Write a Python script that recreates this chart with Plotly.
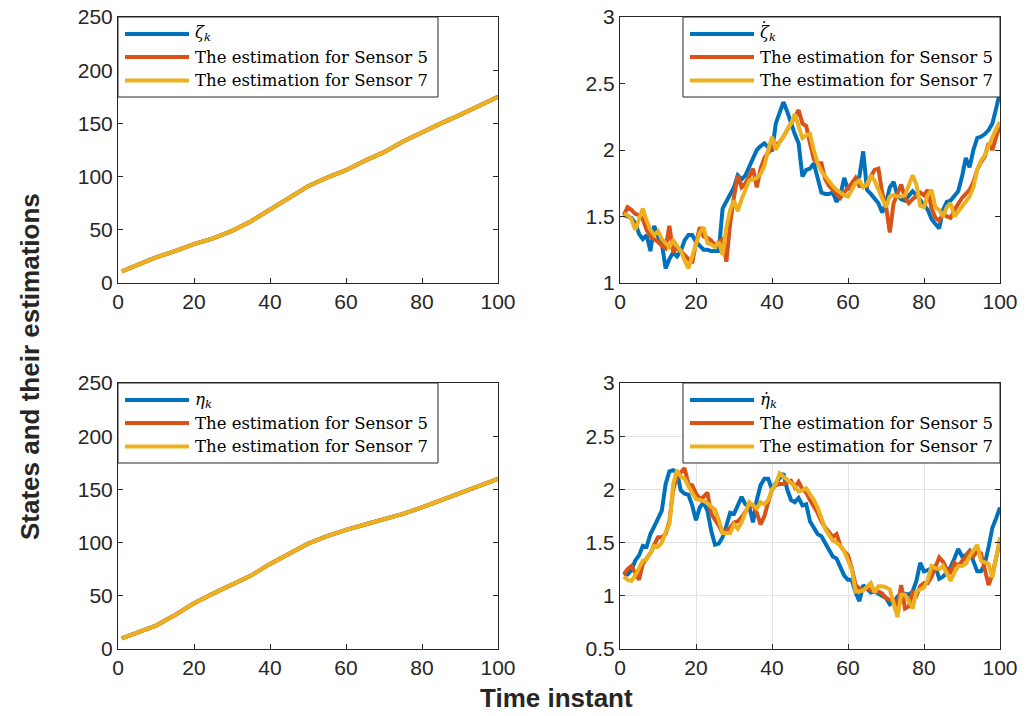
import plotly.graph_objects as go

# ---------------- data ----------------
t_coarse = [1, 5, 10, 15, 20, 25, 30, 35, 40, 45, 50, 55, 60, 65, 70, 75, 80, 85, 90, 95, 100]
zeta = [11, 17, 24, 30, 36.5, 42, 49, 58, 69, 80, 91, 99, 106, 115, 123, 133, 142, 150, 158, 167, 175]
zeta_s5 = [11, 17, 24, 30, 36.5, 42, 49, 58, 69, 80, 91, 99, 106, 115, 123, 133, 142, 150, 158, 167, 175]
zeta_s7 = [11, 17, 24, 30, 36.5, 42, 49, 58, 69, 80, 91, 99, 106, 115, 123, 133, 142, 150, 158, 167, 175]
eta = [10, 15, 22, 32, 43, 52, 60, 69, 80, 90, 99, 106, 112, 117, 122, 127, 133, 140, 147, 154, 160]
eta_s5 = [10, 15, 22, 32, 43, 52, 60, 69, 80, 90, 99, 106, 112, 117, 122, 127, 133, 140, 147, 154, 160]
eta_s7 = [10, 15, 22, 32, 43, 52, 60, 69, 80, 90, 99, 106, 112, 117, 122, 127, 133, 140, 147, 154, 160]

t = list(range(1, 101))
zeta_dot = [1.51, 1.50, 1.49, 1.45, 1.37, 1.33, 1.36, 1.24, 1.43, 1.35,
            1.30, 1.11, 1.18, 1.23, 1.20, 1.24, 1.32, 1.36, 1.36, 1.31,
            1.28, 1.25, 1.25, 1.24, 1.24, 1.24, 1.56, 1.61, 1.66, 1.72,
            1.81, 1.78, 1.81, 1.87, 1.93, 2.00, 2.03, 2.05, 2.02, 1.99,
            2.20, 2.28, 2.36, 2.29, 2.20, 2.12, 2.05, 1.80, 1.85, 1.86,
            1.90, 1.78, 1.68, 1.67, 1.67, 1.68, 1.61, 1.66, 1.79, 1.70,
            1.74, 1.76, 1.80, 1.99, 1.70, 1.67, 1.64, 1.60, 1.53, 1.60,
            1.72, 1.76, 1.66, 1.63, 1.62, 1.66, 1.69, 1.66, 1.62, 1.59,
            1.55, 1.48, 1.45, 1.41, 1.55, 1.61, 1.62, 1.65, 1.69, 1.80,
            1.94, 1.87, 2.00, 2.09, 2.10, 2.12, 2.15, 2.20, 2.32, 2.43]
zeta_dot_s5 = [1.51, 1.57, 1.55, 1.52, 1.51, 1.48, 1.40, 1.35, 1.33, 1.31,
               1.28, 1.26, 1.43, 1.23, 1.27, 1.24, 1.20, 1.18, 1.15, 1.30,
               1.42, 1.35, 1.34, 1.32, 1.28, 1.31, 1.33, 1.16, 1.45, 1.65,
               1.81, 1.72, 1.75, 1.80, 1.86, 1.72, 1.86, 1.94, 1.98, 2.02,
               2.04, 2.06, 2.10, 2.15, 2.20, 2.26, 2.30, 2.20, 2.18, 2.05,
               1.93, 1.90, 1.90, 1.78, 1.73, 1.70, 1.67, 1.64, 1.68, 1.71,
               1.75, 1.79, 1.73, 1.73, 1.73, 1.80, 1.85, 1.86, 1.68, 1.58,
               1.38, 1.60, 1.68, 1.74, 1.64, 1.60, 1.63, 1.66, 1.68, 1.66,
               1.70, 1.56, 1.49, 1.47, 1.52, 1.50, 1.49, 1.55, 1.60, 1.64,
               1.67, 1.70, 1.76, 1.85, 1.91, 1.95, 2.05, 2.00, 2.10, 2.18]
zeta_dot_s7 = [1.52, 1.51, 1.48, 1.40, 1.48, 1.56, 1.47, 1.40, 1.36, 1.39,
               1.33, 1.30, 1.27, 1.32, 1.28, 1.24, 1.17, 1.11, 1.20, 1.30,
               1.38, 1.42, 1.30, 1.29, 1.27, 1.31, 1.21, 1.42, 1.55, 1.62,
               1.54, 1.63, 1.70, 1.77, 1.78, 1.79, 1.82, 1.88, 2.00, 2.10,
               2.00, 2.06, 2.10, 2.15, 2.20, 2.27, 2.18, 2.09, 2.11, 2.12,
               2.00, 1.90, 1.84, 1.80, 1.76, 1.73, 1.70, 1.68, 1.66, 1.65,
               1.70, 1.75, 1.77, 1.72, 1.74, 1.81, 1.77, 1.70, 1.63, 1.57,
               1.65, 1.66, 1.65, 1.65, 1.66, 1.73, 1.81, 1.74, 1.58, 1.57,
               1.66, 1.70, 1.57, 1.55, 1.50, 1.57, 1.60, 1.50, 1.54, 1.58,
               1.62, 1.65, 1.72, 1.85, 1.92, 1.96, 2.03, 2.10, 2.16, 2.21]

eta_dot = [1.20, 1.20, 1.24, 1.33, 1.38, 1.47, 1.46, 1.58, 1.65, 1.72,
           1.80, 2.05, 2.17, 2.18, 2.16, 1.99, 1.96, 1.95, 1.85, 1.71,
           1.83, 1.88, 1.80, 1.61, 1.48, 1.49, 1.55, 1.66, 1.78, 1.77,
           1.85, 1.93, 1.86, 1.84, 1.69, 1.90, 2.04, 2.10, 2.10, 2.00,
           2.06, 2.11, 2.15, 2.00, 1.90, 1.88, 1.92, 1.85, 1.86, 1.70,
           1.63, 1.58, 1.56, 1.50, 1.44, 1.37, 1.35, 1.28, 1.19, 1.15,
           1.15, 1.03, 0.95, 1.10, 1.06, 1.03, 1.04, 1.02, 1.00, 0.98,
           0.92, 0.94, 0.99, 1.02, 1.02, 1.01, 1.04, 1.14, 1.31, 1.23,
           1.24, 1.26, 1.28, 1.16, 1.18, 1.22, 1.27, 1.35, 1.44, 1.37,
           1.38, 1.42, 1.32, 1.23, 1.23, 1.30, 1.46, 1.64, 1.73, 1.83]
eta_dot_s5 = [1.20, 1.25, 1.28, 1.22, 1.15, 1.30, 1.35, 1.40, 1.48, 1.55,
              1.55, 1.58, 1.70, 2.00, 2.12, 2.16, 2.20, 2.05, 2.04, 1.96,
              1.91, 1.93, 1.97, 1.77, 1.72, 1.66, 1.59, 1.61, 1.64, 1.69,
              1.70, 1.74, 1.79, 1.84, 1.85, 1.78, 1.67, 1.75, 1.88, 2.00,
              2.04, 2.05, 2.05, 2.07, 2.08, 2.02, 2.07, 2.00, 1.97, 1.90,
              1.84, 1.78, 1.70, 1.64, 1.60, 1.55, 1.58, 1.47, 1.42, 1.38,
              1.26, 1.10, 1.07, 1.06, 1.07, 1.05, 1.04, 1.04, 1.02, 0.98,
              0.96, 0.96, 0.90, 1.10, 0.88, 0.90, 1.03, 1.00, 1.09, 1.12,
              1.12, 1.18, 1.28, 1.36, 1.32, 1.25, 1.22, 1.31, 1.28, 1.32,
              1.37, 1.42, 1.37, 1.42, 1.40, 1.25, 1.10, 1.20, 1.36, 1.52]
eta_dot_s7 = [1.18, 1.15, 1.14, 1.19, 1.26, 1.33, 1.34, 1.41, 1.47, 1.46,
              1.50, 1.60, 1.67, 2.05, 2.18, 2.12, 2.10, 2.03, 1.97, 1.91,
              1.90, 1.89, 1.87, 1.84, 1.81, 1.71, 1.59, 1.59, 1.59, 1.67,
              1.63, 1.69, 1.80, 1.88, 1.85, 1.82, 1.88, 1.86, 1.90, 2.00,
              2.05, 2.15, 2.12, 2.09, 2.07, 2.03, 1.98, 1.99, 2.01, 1.96,
              1.90, 1.83, 1.73, 1.63, 1.57, 1.52, 1.50, 1.47, 1.42, 1.33,
              1.25, 1.04, 1.04, 1.05, 1.08, 1.12, 1.03, 1.09, 1.09, 1.08,
              1.06, 0.92, 0.80, 1.01, 1.01, 0.95, 0.88, 1.04, 1.06, 1.08,
              1.15, 1.28, 1.26, 1.25, 1.28, 1.20, 1.14, 1.22, 1.28, 1.28,
              1.30, 1.37, 1.43, 1.48, 1.33, 1.31, 1.30, 1.17, 1.35, 1.55]

est_labels = ["The estimation for Sensor 5", "The estimation for Sensor 7"]
state_labels = ["<i>ζ</i><sub><i>k</i></sub>", "<i>ζ</i><sub><i>k</i></sub>",
                "<i>η</i><sub><i>k</i></sub>", "<i>η̇</i><sub><i>k</i></sub>"]
zeta_dot_panel = 1  # legend whose ζ carries a separately drawn dot
colors = ["#0072BD", "#D95319", "#EDB120"]

# ---------------- figure ----------------
W, H = 1032, 716
fig = go.Figure()

panels = [
    (t_coarse, [zeta, zeta_s5, zeta_s7], "x", "y"),
    (t, [zeta_dot, zeta_dot_s5, zeta_dot_s7], "x2", "y2"),
    (t_coarse, [eta, eta_s5, eta_s7], "x3", "y3"),
    (t, [eta_dot, eta_dot_s5, eta_dot_s7], "x4", "y4"),
]
for i, (xs, series, xa, ya) in enumerate(panels):
    names = [state_labels[i]] + est_labels
    for s, name, c in zip(series, names, colors):
        fig.add_trace(go.Scatter(x=xs, y=s, mode="lines", name=name,
                                 line=dict(color=c, width=4),
                                 xaxis=xa, yaxis=ya, showlegend=False))

# panel pixel boxes (left, right, top, bottom)
boxes = [(118, 498, 17, 283), (620, 1000, 17, 283),
         (118, 498, 383, 649), (620, 1000, 383, 649)]
yranges = [[0, 250], [1, 3], [0, 250], [0.5, 3]]
ydticks = [50, 0.5, 50, 0.5]
axcol = "#262626"
tickfont = dict(family="Liberation Sans, Arial, sans-serif", size=21, color=axcol)

layout = dict(width=W, height=H, margin=dict(l=0, r=0, t=0, b=0, autoexpand=False),
              plot_bgcolor="white", paper_bgcolor="white", showlegend=False)
for i, (l, r, tp, b) in enumerate(boxes):
    sfx = "" if i == 0 else str(i + 1)
    grid = (i == 3)
    layout["xaxis" + sfx] = dict(
        domain=[l / W, r / W], anchor="y" + sfx, range=[0, 100], automargin=False,
        tick0=0, dtick=20, ticks="inside", ticklen=5, tickcolor=axcol,
        showline=True, linecolor=axcol, linewidth=1, mirror="ticks",
        showgrid=grid, gridcolor="#e3e3e3", gridwidth=1, zeroline=False,
        tickfont=tickfont)
    layout["yaxis" + sfx] = dict(
        domain=[1 - b / H, 1 - tp / H], anchor="x" + sfx, range=yranges[i], automargin=False,
        tick0=0, dtick=ydticks[i], ticks="inside", ticklen=5, tickcolor=axcol,
        showline=True, linecolor=axcol, linewidth=1, mirror="ticks",
        showgrid=grid, gridcolor="#e3e3e3", gridwidth=1, zeroline=False,
        tickfont=tickfont)
fig.update_layout(**layout)

# ---------------- legends (boxed, top-left of each panel area) ----------------
legbox = [(118, 17, 438, 97), (683, 17, 1000, 97),
          (118, 383, 438, 463), (683, 383, 1000, 463)]
row_off = [17, 40, 63.5]
legfont = dict(family="DejaVu Serif, serif", size=16.5, color="black")
for i, (lx0, ly0, lx1, ly1) in enumerate(legbox):
    fig.add_shape(type="rect", xref="paper", yref="paper",
                  x0=lx0 / W, x1=lx1 / W, y0=1 - ly1 / H, y1=1 - ly0 / H,
                  line=dict(color=axcol, width=1), fillcolor="white", layer="above")
    labels = [state_labels[i]] + est_labels
    for j, (lab, c) in enumerate(zip(labels, colors)):
        yy = ly0 + row_off[j]
        fig.add_shape(type="line", xref="paper", yref="paper",
                      x0=(lx0 + 7) / W, x1=(lx0 + 71) / W, y0=1 - yy / H, y1=1 - yy / H,
                      line=dict(color=c, width=4), layer="above")
        fig.add_annotation(text=lab, x=(lx0 + 76) / W, y=1 - yy / H,
                           xref="paper", yref="paper", xanchor="left", yanchor="middle",
                           showarrow=False, font=legfont, borderpad=0)
        if j == 0 and i == zeta_dot_panel:
            fig.add_annotation(text="˙", x=(lx0 + 81) / W, y=1 - yy / H,
                               xref="paper", yref="paper", xanchor="center", yanchor="middle",
                               yshift=5, showarrow=False, font=legfont, borderpad=0)

fig.add_annotation(text="<b>States and their estimations</b>", x=30 / W, y=1 - 367 / H,
                   xref="paper", yref="paper", showarrow=False, textangle=-90,
                   xanchor="center", yanchor="middle",
                   font=dict(family="Liberation Sans, Arial, sans-serif", size=26, color=axcol))
fig.add_annotation(text="<b>Time instant</b>", x=556 / W, y=1 - 715 / H,
                   xref="paper", yref="paper", showarrow=False,
                   xanchor="center", yanchor="bottom",
                   font=dict(family="Liberation Sans, Arial, sans-serif", size=26, color=axcol))

fig.write_html("out.html")
